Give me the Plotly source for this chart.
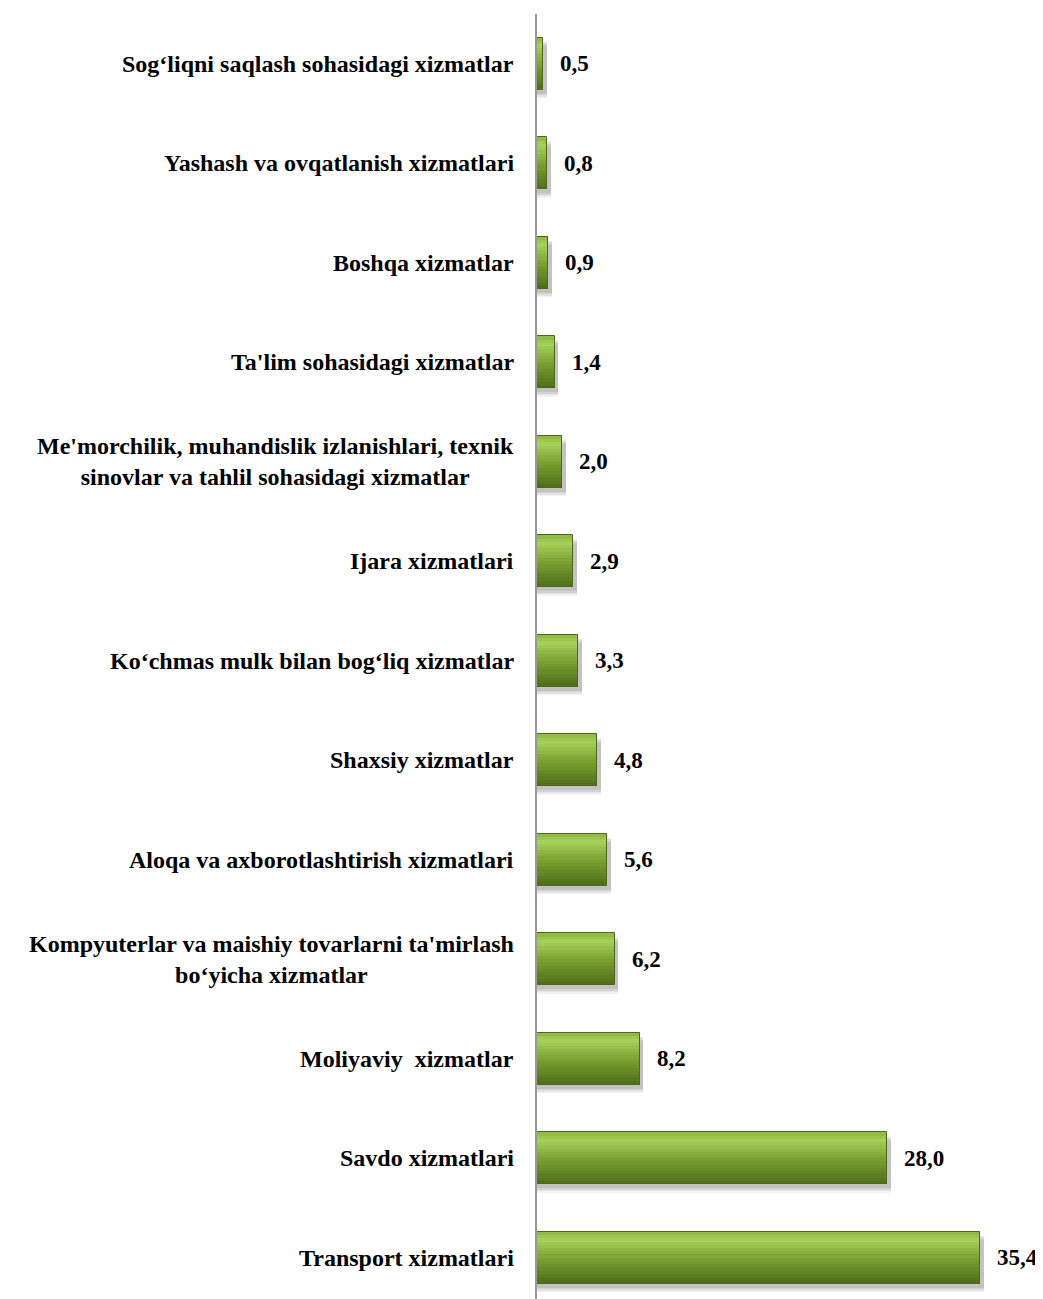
import plotly.graph_objects as go

# Data (bottom to top)
categories = [
    "Transport xizmatlari",
    "Savdo xizmatlari",
    "Moliyaviy  xizmatlar",
    "Kompyuterlar va maishiy tovarlarni ta'mirlash<br>bo‘yicha xizmatlar",
    "Aloqa va axborotlashtirish xizmatlari",
    "Shaxsiy xizmatlar",
    "Ko‘chmas mulk bilan bog‘liq xizmatlar",
    "Ijara xizmatlari",
    "Me'morchilik, muhandislik izlanishlari, texnik<br>sinovlar va tahlil sohasidagi xizmatlar",
    "Ta'lim sohasidagi xizmatlar",
    "Boshqa xizmatlar",
    "Yashash va ovqatlanish xizmatlari",
    "Sog‘liqni saqlash sohasidagi xizmatlar",
]
values = [35.4, 28.0, 8.2, 6.2, 5.6, 4.8, 3.3, 2.9, 2.0, 1.4, 0.9, 0.8, 0.5]
value_labels = [f"{v:.1f}".replace(".", ",") for v in values]

FONT = "Liberation Serif, Times New Roman, serif"
BAR_H = 0.52

fig = go.Figure()

# soft shadow layers
for dy, alpha in [(-0.085, 0.05), (-0.07, 0.06), (-0.055, 0.07), (-0.04, 0.08)]:
    fig.add_trace(go.Bar(
        x=[v + 0.3 for v in values], y=categories, orientation="h",
        width=BAR_H, offset=-BAR_H / 2 + dy,
        marker=dict(color=f"rgba(0,0,0,{alpha})", line=dict(width=0)),
        hoverinfo="skip", showlegend=False,
    ))

# gradient bands
stops = [(0.0, (78, 108, 26)), (0.5, (124, 162, 50)), (0.85, (165, 209, 90)), (1.0, (140, 182, 64))]

def col(t):
    for (t0, c0), (t1, c1) in zip(stops[:-1], stops[1:]):
        if t0 <= t <= t1:
            f = (t - t0) / (t1 - t0) if t1 > t0 else 0
            return "rgb(%d,%d,%d)" % tuple(round(a + (b - a) * f) for a, b in zip(c0, c1))
    return "rgb(%d,%d,%d)" % stops[-1][1]

N = 16
for i in range(N):
    t = (i + 0.5) / N
    fig.add_trace(go.Bar(
        x=values, y=categories, orientation="h",
        width=BAR_H / N * 1.15, offset=-BAR_H / 2 + i * BAR_H / N,
        marker=dict(color=col(t), line=dict(width=0)),
        hoverinfo="skip", showlegend=False,
    ))

# outline
fig.add_trace(go.Bar(
    x=values, y=categories, orientation="h",
    width=BAR_H, offset=-BAR_H / 2,
    marker=dict(color="rgba(0,0,0,0)", line=dict(color="#4E6A18", width=1)),
    hoverinfo="skip", showlegend=False,
))

# labels
for c, v, lab in zip(categories, values, value_labels):
    fig.add_annotation(x=v, y=c, xref="x", yref="y", text=f"<b>{lab}</b>",
                       showarrow=False, xanchor="left", yanchor="middle", xshift=15,
                       font=dict(family=FONT, size=23, color="black"))
    fig.add_annotation(x=0, y=c, xref="x", yref="y", text=f"<b>{c}</b>",
                       showarrow=False, xanchor="right", yanchor="middle", xshift=-21,
                       align="center",
                       font=dict(family=FONT, size=24, color="black"))

fig.update_layout(
    width=1035, height=1291,
    margin=dict(l=529, r=0, t=6, b=0),
    paper_bgcolor="white", plot_bgcolor="white",
    barmode="overlay",
    bargap=0,
    xaxis=dict(range=[0, 40.45], visible=False, fixedrange=True),
    yaxis=dict(type="category", categoryorder="array", categoryarray=categories,
               range=[-0.415, 12.5], showticklabels=False, ticks="",
               showgrid=False, zeroline=False,
               showline=True, linecolor="#999999", linewidth=2),
)

fig.write_html("out.html")
